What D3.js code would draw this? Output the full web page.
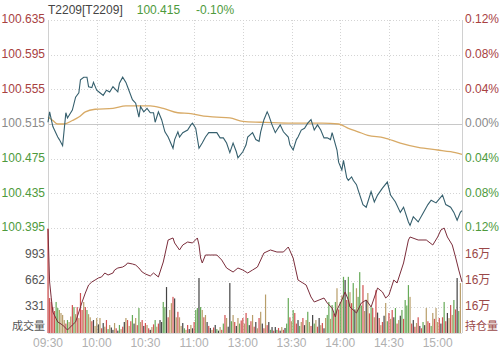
<!DOCTYPE html>
<html>
<head>
<meta charset="utf-8">
<script src="https://cdn.jsdelivr.net/npm/d3@7"></script>
<style>
  body { margin: 0; background: #fff; }
  svg { display: block; font-family: "Liberation Sans", "Noto Sans CJK SC", sans-serif; }
</style>
</head>
<body>
<div id="chart"></div>
<script>
// minute index: 0 = 09:30, 120 = 11:30 / 13:00, 255 = 15:15
const timeTicks = [0, 30, 60, 90, 120, 150, 180, 210, 240];
const timeLabels = ["09:30", "10:00", "10:30", "11:00", "13:00", "13:30", "14:00", "14:30", "15:00"];

const prevClose = 100.515;
const priceTicks = [100.635, 100.595, 100.555, 100.515, 100.475, 100.435, 100.395];
const pctLabels = ["0.12%", "0.08%", "0.04%", "0.00%", "0.04%", "0.08%", "0.12%"];

const priceMin = [0, 1, 3, 6, 7, 9, 11, 12, 15, 17, 19, 20, 22, 24, 25, 27, 28, 30, 32, 34, 36, 38, 40, 43, 44, 46, 48, 49,
  52, 54, 56, 57, 59, 61, 63, 65, 66, 68, 70, 72, 74, 77, 78, 80, 81, 83, 86, 88, 89, 91, 93, 95, 97, 99, 102, 104, 106,
  108, 110, 112, 114, 116, 117, 120, 122, 123, 126, 128, 130, 131, 133, 135, 136, 138, 140, 141, 143, 145, 148, 149, 151,
  153, 154, 156, 158, 160, 162, 164, 166, 168, 170, 172, 174, 175, 178, 179, 181, 182, 184, 185, 187, 188, 190, 191, 194,
  196, 199, 201, 203, 206, 209, 211, 214, 217, 219, 222, 223, 225, 228, 231, 234, 236, 239, 243, 245, 248, 250, 252, 254, 255];
const priceVal = [100.517, 100.529, 100.512, 100.500, 100.497, 100.490, 100.528, 100.522, 100.531, 100.546, 100.551, 100.566,
  100.569, 100.569, 100.558, 100.557, 100.563, 100.554, 100.551, 100.548, 100.554, 100.552, 100.558, 100.552, 100.562,
  100.569, 100.563, 100.558, 100.543, 100.539, 100.523, 100.535, 100.529, 100.533, 100.528, 100.528, 100.517, 100.529,
  100.520, 100.506, 100.500, 100.487, 100.497, 100.506, 100.500, 100.505, 100.508, 100.514, 100.516, 100.510, 100.487,
  100.493, 100.500, 100.505, 100.505, 100.505, 100.499, 100.499, 100.493, 100.482, 100.493, 100.483, 100.476, 100.483,
  100.491, 100.500, 100.505, 100.497, 100.495, 100.506, 100.520, 100.529, 100.525, 100.514, 100.505, 100.508, 100.514,
  100.506, 100.500, 100.491, 100.485, 100.497, 100.500, 100.508, 100.510, 100.516, 100.520, 100.508, 100.514, 100.508,
  100.499, 100.499, 100.497, 100.505, 100.485, 100.471, 100.462, 100.473, 100.453, 100.450, 100.454, 100.450, 100.445,
  100.439, 100.422, 100.419, 100.437, 100.425, 100.433, 100.441, 100.448, 100.433, 100.425, 100.413, 100.419, 100.402,
  100.398, 100.408, 100.402, 100.412, 100.422, 100.427, 100.424, 100.433, 100.422, 100.419, 100.413, 100.404, 100.413, 100.415];

const avgMin = [0, 3, 6, 10, 15, 19, 23, 29, 40, 48, 56, 63, 71, 80, 88, 96, 104, 112, 120, 131, 148, 169, 179, 185, 191, 197,
  207, 217, 228, 240, 248, 255];
const avgVal = [100.523, 100.519, 100.515, 100.515, 100.519, 100.523, 100.529, 100.532, 100.533, 100.536, 100.536, 100.536,
  100.533, 100.528, 100.527, 100.524, 100.523, 100.522, 100.518, 100.517, 100.516, 100.516, 100.515, 100.510, 100.506,
  100.502, 100.499, 100.493, 100.488, 100.485, 100.483, 100.480];

const volTicks = [331, 662, 993];
const volumes = [1330, 445, 395, 330, 280, 395, 318, 293, 255, 230, 165, 120, 165, 140, 210, 356, 330, 240, 330, 190,
  509, 293, 395, 330, 293, 240, 200, 150, 165, 90, 191, 110, 191, 60, 127, 80, 165, 50, 102, 70,
  40, 127, 60, 30, 102, 50, 80, 140, 191, 165, 90, 150, 229, 120, 191, 100, 318, 140, 165, 90,
  127, 102, 60, 40, 76, 110, 165, 80, 120, 165, 140, 395, 330, 585, 200, 293, 380, 460, 440, 200,
  270, 200, 90, 127, 60, 40, 102, 50, 102, 60, 140, 293, 318, 700, 330, 293, 200, 229, 140, 90,
  64, 40, 70, 102, 50, 30, 76, 40, 120, 229, 191, 80, 636, 150, 229, 140, 90, 191, 120, 160,
  191, 120, 255, 191, 100, 150, 229, 80, 140, 60, 191, 270, 120, 60, 490, 100, 140, 40, 76, 30,
  76, 40, 64, 30, 76, 40, 64, 120, 445, 200, 150, 293, 255, 120, 165, 90, 140, 191, 100, 165,
  270, 140, 90, 229, 120, 165, 80, 191, 100, 127, 60, 191, 230, 395, 180, 356, 250, 395, 570, 300,
  395, 480, 715, 675, 420, 715, 520, 380, 636, 300, 570, 460, 775, 350, 610, 280, 420, 509, 250, 330,
  318, 200, 545, 260, 191, 100, 140, 220, 382, 150, 255, 180, 293, 200, 318, 120, 165, 220, 293, 180,
  420, 350, 610, 460, 120, 165, 80, 127, 200, 90, 60, 140, 100, 318, 150, 127, 90, 255, 180, 318,
  140, 191, 120, 200, 395, 150, 255, 190, 356, 230, 420, 300, 700, 280, 636];
// r = up, g = down, k = flat, y = mixed
const volColors = ("rrrrr" + "ggyyy" + "yrgyyrgyry" + "rryrgyyrky" + "ykyrkyrgyk" + "kyrkgyrkyr" + "yrgkyrgyrk" +
  "ryrkyrgyrk" + "kggkryyrky" + "ryykgyrkyk" + "rggkgyrykr" + "kyrkgkyrgr" + "ykkgyrkygr" + "ryrgkryrky" +
  "rykryrkgkr" + "kgrkyrkggr" + "ygrrkgyrky" + "gyrkgyrkyr" + "kyggygrgyr" + "gygkrgyrgk" + "ygggrykyrg" +
  "ryrkryrkyg" + "ryrkgrykgr" + "gggyrkryrk" + "rgkyrrgyry" + "yrkrgrkyry" + "grkgy").split("");

const oiTicks = [161200, 160800, 160400];
const oiMin = [0, 1, 2, 3, 6, 9, 12, 15, 17, 19, 21, 23, 25, 27, 29, 31, 33, 35, 37, 40, 41, 43, 46, 48, 49, 52, 54, 56, 58,
  60, 63, 65, 68, 71, 74, 77, 78, 81, 83, 86, 89, 92, 93, 94, 95, 97, 100, 104, 107, 110, 114, 117, 120, 123, 126, 129,
  131, 133, 137, 141, 145, 148, 151, 154, 157, 159, 162, 164, 167, 170, 172, 175, 177, 178, 181, 183, 185, 186, 190, 193,
  196, 199, 203, 206, 208, 210, 213, 215, 217, 219, 222, 223, 228, 233, 237, 240, 242, 244, 246, 249, 251, 253, 255];
const oiVal = [161600, 160785, 160540, 160323, 160170, 160123, 160046, 160123, 160170, 160323, 160477, 160615, 160738,
  160785, 160815, 160846, 160862, 160923, 160892, 160923, 160969, 161000, 161015, 161046, 161077, 161062, 161046, 161000,
  160938, 160908, 160877, 160923, 160862, 161092, 161431, 161462, 161385, 161277, 161354, 161400, 161385, 161462, 161354,
  161154, 161077, 161200, 161200, 161200, 161123, 161000, 160938, 161000, 160969, 160923, 160969, 161015, 161123, 161231,
  161277, 161246, 161246, 161323, 161154, 160815, 160769, 160738, 160554, 160477, 160508, 160538, 160462, 160385, 160246,
  160354, 160508, 160631, 160508, 160400, 160308, 160462, 160508, 160400, 160692, 160631, 160538, 160585, 160815, 160769,
  160923, 161077, 161431, 161477, 161431, 161431, 161354, 161477, 161585, 161615, 161477, 161354, 161169, 160969, 160785];

const width = 500, height = 352;
const left = 48, right = 462;
const priceTop = 20, priceBottom = 228;
const volTop = 229, volBottom = 333;

const red = "#a8413f", green = "#4e9a3c", grey = "#8a8a8a";

const svg = d3.select("#chart").append("svg")
  .attr("width", width)
  .attr("height", height);

const x = d3.scaleLinear().domain([0, 255]).range([left, right]);
const y = d3.scaleLinear().domain([100.395, 100.635]).range([priceBottom, priceTop]);
const yVol = d3.scaleLinear().domain([0, 1324]).range([volBottom, volTop]);
const yOi = d3.scaleLinear().domain([160000, 161600]).range([volBottom, volTop]);

// grid
const grid = svg.append("g");
grid.selectAll(".hp").data(priceTicks).enter().append("line")
  .attr("x1", left).attr("x2", right)
  .attr("y1", d => Math.round(y(d)) + 0.5).attr("y2", d => Math.round(y(d)) + 0.5)
  .attr("stroke", d => d === prevClose ? "#c8c8c8" : "#d4d4d4")
  .attr("stroke-dasharray", d => d === prevClose ? null : "1,2");
grid.selectAll(".hv").data(volTicks).enter().append("line")
  .attr("x1", left).attr("x2", right)
  .attr("y1", d => Math.round(yVol(d)) + 0.5).attr("y2", d => Math.round(yVol(d)) + 0.5)
  .attr("stroke", "#d4d4d4").attr("stroke-dasharray", "1,2");
grid.selectAll(".v").data(timeTicks.slice(1)).enter().append("line")
  .attr("x1", d => Math.round(x(d)) + 0.5).attr("x2", d => Math.round(x(d)) + 0.5)
  .attr("y1", priceTop).attr("y2", volBottom)
  .attr("stroke", "#d4d4d4").attr("stroke-dasharray", "1,2");
grid.append("line")
  .attr("x1", left + 0.5).attr("x2", left + 0.5).attr("y1", priceTop).attr("y2", volBottom)
  .attr("stroke", "#d0d0d0");
grid.append("line")
  .attr("x1", right + 0.5).attr("x2", right + 0.5).attr("y1", priceTop).attr("y2", volBottom)
  .attr("stroke", "#d0d0d0");
grid.append("line")
  .attr("x1", left).attr("x2", right).attr("y1", volBottom + 0.5).attr("y2", volBottom + 0.5)
  .attr("stroke", "#dcdcdc");

// volume bars
const barColor = { r: "#d25252", g: "#66aa58", k: "#444", y: "#b89e6a" };
svg.append("g").selectAll("rect").data(volumes).enter().append("rect")
  .attr("x", (d, i) => x(i) - 0.6)
  .attr("width", 1.2)
  .attr("y", d => yVol(d))
  .attr("height", d => volBottom - yVol(d))
  .attr("fill", (d, i) => barColor[volColors[i]] || "#999");

// open interest line
svg.append("path")
  .datum(oiMin.map((m, i) => [m, oiVal[i]]))
  .attr("fill", "none")
  .attr("stroke", "#7b2d3b")
  .attr("stroke-width", 1)
  .attr("d", d3.line().x(d => x(d[0])).y(d => yOi(d[1])));

// average line
svg.append("path")
  .datum(avgMin.map((m, i) => [m, avgVal[i]]))
  .attr("fill", "none")
  .attr("stroke", "#d8aa66")
  .attr("stroke-width", 1.3)
  .attr("d", d3.line().curve(d3.curveMonotoneX).x(d => x(d[0])).y(d => y(d[1])));

// price line
svg.append("path")
  .datum(priceMin.map((m, i) => [m, priceVal[i]]))
  .attr("fill", "none")
  .attr("stroke", "#355f6d")
  .attr("stroke-width", 1.1)
  .attr("d", d3.line().x(d => x(d[0])).y(d => y(d[1])));

// left price labels
const labelColor = d => d > prevClose ? red : d < prevClose ? green : grey;
svg.append("g").selectAll("text").data(priceTicks).enter().append("text")
  .attr("x", 45).attr("y", d => y(d))
  .attr("text-anchor", "end").attr("dominant-baseline", "middle")
  .attr("font-size", 12).attr("fill", labelColor)
  .text(d => d.toFixed(3));

// right percent labels
svg.append("g").selectAll("text").data(priceTicks).enter().append("text")
  .attr("x", 465).attr("y", d => y(d))
  .attr("dominant-baseline", "middle")
  .attr("font-size", 12).attr("fill", labelColor)
  .text((d, i) => pctLabels[i]);

// volume labels
svg.append("g").selectAll("text").data(volTicks).enter().append("text")
  .attr("x", 45).attr("y", d => yVol(d))
  .attr("text-anchor", "end").attr("dominant-baseline", "middle")
  .attr("font-size", 12).attr("fill", "#555")
  .text(d => d);
svg.append("text")
  .attr("x", 45).attr("y", 327)
  .attr("text-anchor", "end").attr("dominant-baseline", "middle")
  .attr("font-size", 11).attr("fill", "#555")
  .text("成交量");

// open interest labels
svg.append("g").selectAll("text").data(oiTicks).enter().append("text")
  .attr("x", 465).attr("y", d => yOi(d))
  .attr("dominant-baseline", "middle")
  .attr("font-size", 12).attr("fill", "#9a4848")
  .text(d => Math.round(d / 10000) + "万");
svg.append("text")
  .attr("x", 465).attr("y", 327)
  .attr("dominant-baseline", "middle")
  .attr("font-size", 11).attr("fill", "#9a4848")
  .text("持仓量");

// time labels
svg.append("g").selectAll("text").data(timeTicks).enter().append("text")
  .attr("x", d => x(d)).attr("y", 344)
  .attr("text-anchor", "middle").attr("dominant-baseline", "middle")
  .attr("font-size", 12).attr("fill", "#b0b0b0")
  .text((d, i) => timeLabels[i]);

// title
const last = priceVal[priceVal.length - 1];
const title = svg.append("text").attr("x", 48).attr("y", 11)
  .attr("dominant-baseline", "middle").attr("font-size", 12);
title.append("tspan").attr("fill", "#444").text("T2209[T2209]");
title.append("tspan").attr("dx", 14).attr("fill", green).text(last.toFixed(3));
title.append("tspan").attr("dx", 16).attr("fill", green)
  .text(((last - prevClose) / prevClose * 100).toFixed(2) + "%");
</script>
</body>
</html>
